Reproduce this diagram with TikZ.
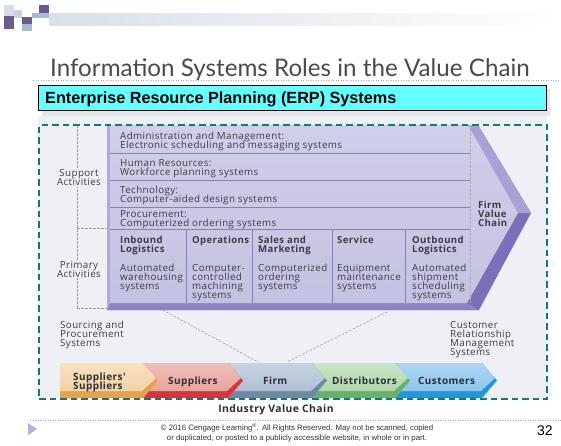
\documentclass[tikz,border=0pt]{standalone}
\usepackage{fontspec}
\setmainfont{Open Sans}
\newfontfamily\figfont[LetterSpace=4]{Open Sans}
\newfontfamily\titlefont{Lato}
\newfontfamily\arialfont{Liberation Sans}
\usetikzlibrary{calc}

\definecolor{logogrey}{HTML}{D9DEE6}
\definecolor{logopurple}{HTML}{6B5A8C}
\definecolor{logolight}{HTML}{C9D3DF}
\definecolor{logoblue}{HTML}{A6BAD2}
\definecolor{barblue}{HTML}{D8E0E8}
\definecolor{titlegrey}{HTML}{4A4A4A}
\definecolor{rulegrey}{HTML}{9FB0C8}
\definecolor{cyanfill}{HTML}{66FFFF}
\definecolor{boxshadow}{HTML}{E4E6EA}
\definecolor{figbg}{HTML}{EFF0F5}
\definecolor{frameteal}{HTML}{17786F}
\definecolor{figink}{HTML}{3C3C46}
\definecolor{vcface}{HTML}{C4C2E2}
\definecolor{vcfacetop}{HTML}{D0CFE9}
\definecolor{vclow}{HTML}{7A70BA}
\definecolor{vcup}{HTML}{A8A2D4}
\definecolor{vcbottom}{HTML}{8C84C3}
\definecolor{vcleft}{HTML}{B0ABD6}
\definecolor{vcline}{HTML}{8682B0}
\definecolor{guidegrey}{HTML}{9C9CA6}
\definecolor{tanface}{HTML}{F4D2A6}
\definecolor{tanedge}{HTML}{E9A24C}
\definecolor{redface}{HTML}{E8A49C}
\definecolor{rededge}{HTML}{D8343C}
\definecolor{firmface}{HTML}{AFC0D4}
\definecolor{firmedge}{HTML}{6E88A6}
\definecolor{distface}{HTML}{B0D8AB}
\definecolor{distedge}{HTML}{66B26A}
\definecolor{custface}{HTML}{8CC6EF}
\definecolor{custedge}{HTML}{2298D8}
\definecolor{chevink}{HTML}{2E2E34}
\definecolor{footink}{HTML}{333333}
\definecolor{triblue}{HTML}{A3B9D6}

% fixed line pitch for stacked labels
\newcommand{\tightlines}{\lineskiplimit=-100pt\lineskip=0pt}

\begin{document}
\begin{tikzpicture}[x=1pt,y=-1pt,
  % multi-line nodes are placed by the baseline of their last line
  figtext/.style={inner sep=0pt, align=left, anchor=base west, text=figink,
    font=\figfont\fontsize{9.8}{9}\selectfont\tightlines},
  headtext/.style={figtext, font=\figfont\fontsize{9.6}{9}\selectfont\bfseries\tightlines},
  sidelabel/.style={figtext, align=center, anchor=base, fill=figbg, inner sep=1pt},
  chevtext/.style={inner sep=0pt, align=left, anchor=base west, text=chevink,
    font=\figfont\fontsize{10}{9}\selectfont\bfseries\tightlines},
  rowline/.style={vcline, line width=0.8pt},
  guide/.style={guidegrey, line width=0.6pt, dash pattern=on 2.5pt off 1.5pt},
  dotrule/.style={rulegrey, line width=0.7pt, dash pattern=on 1.2pt off 1.3pt}]
\useasboundingbox (0,0) rectangle (561,445);
\fill[white] (0,0) rectangle (561,445);

% corner logo and header bar
\shade[left color=barblue, right color=white] (49,13) rectangle (561,25);
\fill[logogrey] (4,5) rectangle (14,16);
\fill[logopurple] (4,16) rectangle (14,29);
\fill[logolight] (14,10) rectangle (22,18);
\fill[logopurple] (22,17) rectangle (32,24);
\fill[logoblue] (22,24) rectangle (32,31);
\fill[logoblue] (32,13) rectangle (49,18);
\fill[logopurple] (39,5) rectangle (49,13);

% title
\node[anchor=base west, inner sep=0pt, text=titlegrey,
  font=\titlefont\fontsize{24.2}{25}\selectfont] (title) at (50,76)
  {Information Systems Roles in the Value Chain};
\coordinate (ruleL) at (33,80);
\coordinate (ruleR) at (561,80);
\draw[dotrule] (ruleL) -- (ruleR);

% heading box
\fill[boxshadow] (42,89) rectangle (550,116);
\node[draw=black, line width=1pt, fill=cyanfill, anchor=north west, inner sep=0pt,
  minimum width=508pt, minimum height=25pt] (erpbox) at (38,85) {};
\node[anchor=base west, inner sep=0pt, font=\arialfont\bfseries\fontsize{16.2}{16}\selectfont]
  (erptext) at (45,103.5) {Enterprise Resource Planning (ERP) Systems};

% figure background
\fill[figbg] (38,116) rectangle (547,398);

% firm value chain arrow
\fill[vclow] (107,125) -- (478,125) -- (531,213) -- (479,310) -- (107,310) -- cycle;
\fill[vcbottom] (107,303) -- (467,303) -- (479,310) -- (107,310) -- cycle;
\fill[vcup] (468,125) -- (478,125) -- (531,213) -- (518,213) -- cycle;
\fill[vcleft] (107,125) -- (110,125) -- (110,303) -- (107,310) -- cycle;
\shade[top color=vcfacetop, bottom color=vcface]
  (110,125) -- (468,125) -- (518,213) -- (467,303) -- (110,303) -- cycle;

% support rows and primary columns
\draw[rowline] (110,153) -- (470,153);
\draw[rowline] (110,180) -- (470,180);
\draw[rowline] (110,207) -- (470,207);
\draw[rowline] (110,229) -- (470,229);
\foreach \cx in {186,252,332,405} \draw[rowline] (\cx,229) -- (\cx,303);
\draw[guide, guidegrey!80] (470,125) -- (470,303);

% side bracket
\draw[guide] (77,125) -- (77,308);
\draw[guide] (77,228) -- (107,228);
\draw[guide] (77,308) -- (107,308);

% support activity texts
\node[figtext] (admin) at (120,148) {Administration and Management:\\Electronic scheduling and messaging systems};
\node[figtext] (hr) at (120,175) {Human Resources:\\Workforce planning systems};
\node[figtext] (tech) at (120,202) {Technology:\\Computer-aided design systems};
\node[figtext] (proc) at (120,226) {Procurement:\\Computerized ordering systems};

% primary activity headers
\node[headtext] (inbound) at (120,252) {Inbound\\Logistics};
\node[headtext] (ops) at (192,243) {Operations};
\node[headtext] (sales) at (258,252) {Sales and\\Marketing};
\node[headtext] (service) at (337,243) {Service};
\node[headtext] (outbound) at (412,252) {Outbound\\Logistics};

% primary activity systems
\node[figtext] (inboundsys) at (120,289) {Automated\\warehousing\\systems};
\node[figtext] (opssys) at (192,298) {Computer-\\controlled\\machining\\systems};
\node[figtext] (salessys) at (258,289) {Computerized\\ordering\\systems};
\node[figtext] (servicesys) at (337,289) {Equipment\\maintenance\\systems};
\node[figtext] (outboundsys) at (412,298) {Automated\\shipment\\scheduling\\systems};

\node[headtext] (fvc) at (478,226) {Firm\\Value\\Chain};

% side labels
\node[sidelabel] (support) at (79,185.5) {Support\\Activities};
\node[sidelabel] (primary) at (79,277) {Primary\\Activities};
\node[figtext] (sourcing) at (60,346) {Sourcing and\\Procurement\\Systems};
\node[figtext] (crm) at (450,355) {Customer\\Relationship\\Management\\Systems};

% industry value chain
\fill[custedge] (365,363) -- (482,363) -- (497,380.5) -- (482,398) -- (365,398) -- (380,380.5) -- cycle;
\shade[top color=custface!70!white, bottom color=custface]
  (365,363) -- (482,363) -- (495,378) -- (481,391) -- (371,391) -- (380,380.5) -- cycle;
\fill[distedge] (287,363) -- (395,363) -- (410,380.5) -- (395,398) -- (287,398) -- (302,380.5) -- cycle;
\shade[top color=distface!70!white, bottom color=distface]
  (287,363) -- (395,363) -- (408,378) -- (394,391) -- (293,391) -- (302,380.5) -- cycle;
\fill[firmedge] (228,363) -- (312,363) -- (327,380.5) -- (312,398) -- (228,398) -- (243,380.5) -- cycle;
\shade[top color=firmface!70!white, bottom color=firmface]
  (228,363) -- (312,363) -- (325,378) -- (311,391) -- (234,391) -- (243,380.5) -- cycle;
\fill[rededge] (143,363) -- (228,363) -- (243,380.5) -- (228,398) -- (143,398) -- (158,380.5) -- cycle;
\shade[top color=redface!70!white, bottom color=redface]
  (143,363) -- (228,363) -- (241,378) -- (227,391) -- (149,391) -- (158,380.5) -- cycle;
\fill[tanedge] (60,363) -- (143,363) -- (158,380.5) -- (143,398) -- (60,398) -- cycle;
\shade[top color=tanface!70!white, bottom color=tanface]
  (60,363) -- (143,363) -- (156,378) -- (142,391) -- (60,391) -- cycle;

\node[chevtext] (ssup) at (73,389) {Suppliers'\\Suppliers};
\node[chevtext] (sup) at (168,384) {Suppliers};
\node[chevtext] (firm) at (263,384) {Firm};
\node[chevtext] (dist) at (332,384) {Distributors};
\node[chevtext] (cust) at (418,384) {Customers};

% links from the firm value chain down to the firm
\coordinate (vcLeftFoot) at (163,310);
\coordinate (vcRightFoot) at (387,312);
\coordinate (firmLeftTop) at (258,362);
\coordinate (firmRightTop) at (287,362);
\draw[guide] (vcLeftFoot) -- (firmLeftTop);
\draw[guide] (vcRightFoot) -- (firmRightTop);

% dashed frame
\node[draw=frameteal, line width=2pt, dash pattern=on 6.5pt off 4pt, anchor=north west,
  inner sep=0pt, minimum width=508pt, minimum height=274pt] (frame) at (38,124) {};

\node[anchor=base, inner sep=0pt, text=chevink, font=\figfont\fontsize{10.4}{10}\selectfont\bfseries]
  (ivc) at (276,412.5) {Industry Value Chain};

% footer
\coordinate (footL) at (30,420);
\coordinate (footR) at (561,420);
\draw[dotrule] (footL) -- (footR);
\fill[triblue] (28,423) -- (37,429) -- (28,435) -- cycle;
\node[anchor=base, inner sep=0pt, text=footink, align=center,
  font=\arialfont\fontsize{7.8}{10}\selectfont\tightlines] (copy) at (297,440.5)
  {\textcopyright{} 2016 Cengage Learning\textsuperscript{\textregistered}. All Rights Reserved. May not be scanned, copied\\
   or duplicated, or posted to a publicly accessible website, in whole or in part.};
\node[anchor=base west, inner sep=0pt, text=black, font=\arialfont\fontsize{14}{14}\selectfont]
  (pagenum) at (537,435) {32};
\end{tikzpicture}
\end{document}
